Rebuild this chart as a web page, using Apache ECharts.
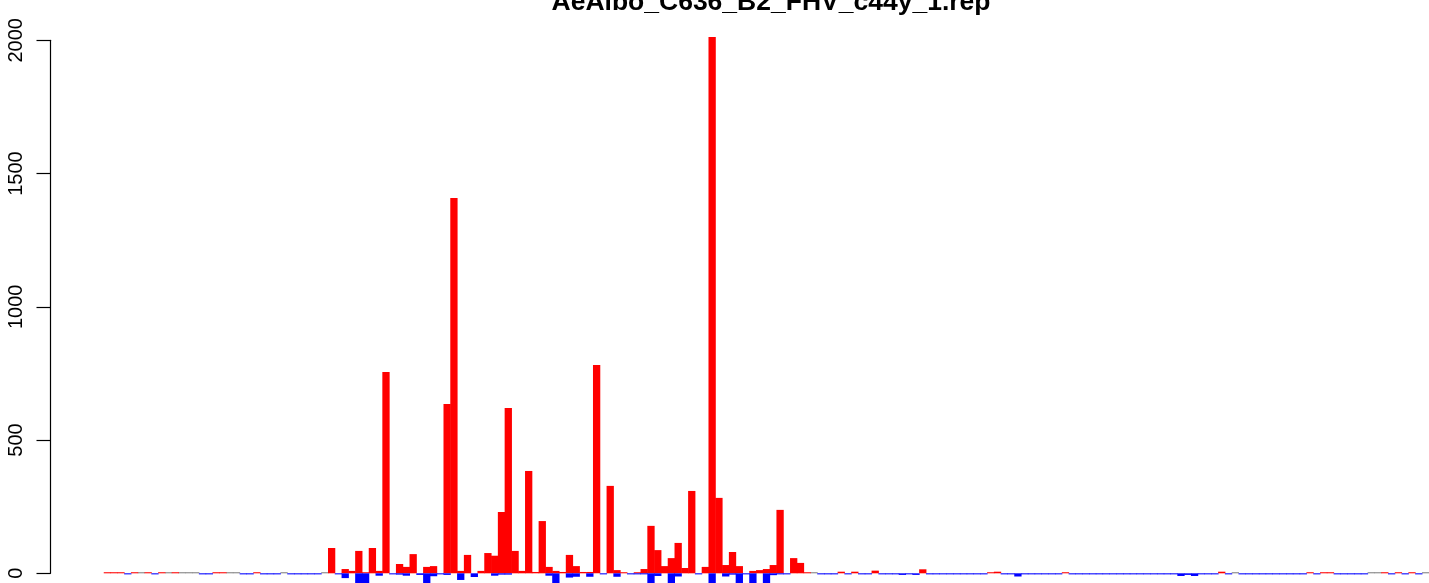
<!DOCTYPE html>
<html>
<head>
<meta charset="utf-8">
<script src="https://cdn.jsdelivr.net/npm/echarts@6/dist/echarts.min.js"></script>
<style>
html,body{margin:0;padding:0;background:#fff;}
#c{width:1429px;height:583px;}
</style>
</head>
<body>
<div id="c"></div>
<script>
var titleText = "AeAlbo_C636_B2_FHV_c44y_1.rep";
var yTicks = [0, 500, 1000, 1500, 2000];

// red (positive) counts per position 0..194
var plusValues = [
  4,4,4,0,4,0,4,0,4,0,
  4,0,0,0,0,0,4,4,0,0,
  0,0,4,0,0,0,0,0,0,0,
  0,0,0,95,0,16,9,84,4,95,
  9,755,0,35,24,72,0,24,27,0,
  635,1408,9,69,0,9,76,66,230,620,
  84,9,384,5,196,24,9,5,69,27,
  5,5,782,0,328,12,4,0,4,16,
  178,87,27,57,114,20,309,0,24,2012,
  283,31,80,27,0,9,12,16,31,238,
  0,57,39,4,0,0,0,0,6,0,
  6,0,0,10,0,0,0,0,0,0,
  15,0,0,0,0,0,0,0,0,0,
  4,6,0,0,0,0,0,0,0,0,
  0,4,0,0,0,0,0,0,0,0,
  0,0,0,0,0,0,0,0,0,0,
  0,0,0,0,6,0,0,0,0,0,
  0,0,0,0,0,0,0,4,0,4,
  4,0,0,0,0,0,0,0,4,0,
  4,0,4,0,0
];

// blue (negative) counts per position 0..194
var minusValues = [
  0,0,0,-4,0,0,0,-4,0,0,
  0,0,0,0,-4,-4,0,0,0,0,
  -4,-4,0,-4,-4,-4,0,-4,-4,-4,
  -4,-4,0,0,-4,-18,0,-38,-38,0,
  -9,0,-4,-5,-9,0,-6,-38,-11,-4,
  -6,0,-25,0,-14,0,0,-9,-5,-5,
  0,0,0,0,0,-9,-38,0,-16,-13,
  0,-13,0,-4,0,-13,0,-4,-4,-4,
  -38,-10,0,-38,-12,0,0,-4,0,-38,
  0,-12,-5,-38,-4,-38,0,-38,-7,-4,
  -4,0,0,0,0,-4,-4,-4,0,-4,
  0,-4,-4,0,-4,-4,-4,-6,-4,-6,
  0,-4,-4,-4,-4,-4,-4,-4,-4,-4,
  0,0,-4,-4,-12,-4,-4,-4,-4,-4,
  -4,0,-4,-4,-4,-4,-4,-4,-4,-4,
  -4,-4,-4,-4,-4,-4,-4,-4,-10,-6,
  -10,-4,-4,-4,0,-4,0,-4,-4,-4,
  -4,-4,-4,-4,-4,-4,-4,0,-4,0,
  0,-4,-4,-4,-4,-4,0,0,0,-4,
  0,-4,0,-4,0
];

// grey zero-level marks
var greyPositions = [5,9,11,12,13,18,19,26,32,104,166,186,187,194];
var greyLevel = 4;

var categories = plusValues.map(function(_, i){ return String(i + 1); });
var greyValues = categories.map(function(_, i){ return greyPositions.indexOf(i) >= 0 ? greyLevel : 0; });

var chart = echarts.init(document.getElementById('c'), null, {renderer:'canvas'});
var font = "'Liberation Sans', Arial, Helvetica, sans-serif";
var barW = 7.3;
chart.setOption({
  animation: false,
  backgroundColor: '#ffffff',
  title: {
    text: titleText,
    left: 766,
    textAlign: 'center',
    top: -16,
    textStyle: {fontFamily: font, fontSize: 26.5, fontWeight: 'bold', color: '#000'}
  },
  grid: {left: 104, right: 0, top: 40.3, bottom: 9.7, containLabel: false},
  xAxis: {
    type: 'category',
    data: categories,
    boundaryGap: true,
    axisLine: {show: false},
    axisTick: {show: false},
    axisLabel: {show: false},
    splitLine: {show: false}
  },
  yAxis: {
    type: 'value',
    min: yTicks[0],
    max: yTicks[yTicks.length - 1],
    interval: 500,
    offset: 53.5,
    axisLine: {show: true, lineStyle: {color: '#000', width: 1.2}},
    axisTick: {show: true, length: 14, lineStyle: {color: '#000', width: 1.2}},
    axisLabel: {rotate: 90, margin: 24, fontSize: 20, fontFamily: font, color: '#000',
      formatter: function(v){ return String(v); }},
    splitLine: {show: false}
  },
  series: [
    {type: 'bar', name: 'zero', data: greyValues, clip: false, barGap: '-100%', barWidth: barW,
     itemStyle: {color: '#808080'}},
    {type: 'bar', name: 'plus', data: plusValues, clip: false, barGap: '-100%', barWidth: barW,
     itemStyle: {color: '#ff0000'}},
    {type: 'bar', name: 'minus', data: minusValues, clip: false, barGap: '-100%', barWidth: barW,
     itemStyle: {color: '#0000ff'}}
  ]
});
</script>
</body>
</html>
